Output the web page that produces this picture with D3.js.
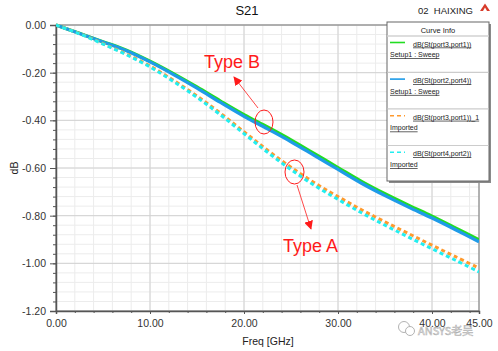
<!DOCTYPE html>
<html lang="en">
<head>
<meta charset="UTF-8">
<script src="https://d3js.org/d3.v7.min.js"></script>
<style>
  body { margin: 0; background: #fff; }
  text { font-family: "Liberation Sans", Arial, sans-serif; }
</style>
</head>
<body>
<div id="chart"></div>
<script>
// Data (Freq in GHz, S21 in dB)
const freq = [0, 2.5, 5, 7.5, 10, 12.5, 15, 17.5, 20, 22.5, 25, 27.5, 30, 32.5, 35, 37.5, 40, 42.5, 45];
const s31Sweep = [0, -0.035, -0.070, -0.106, -0.152, -0.204, -0.260, -0.319, -0.376, -0.428, -0.482, -0.540, -0.598, -0.656, -0.708, -0.756, -0.802, -0.851, -0.901];
const s24Sweep = [0, -0.036, -0.071, -0.108, -0.155, -0.208, -0.265, -0.325, -0.383, -0.436, -0.490, -0.548, -0.606, -0.664, -0.716, -0.764, -0.810, -0.859, -0.910];
const s31Imported = [0, -0.036, -0.078, -0.122, -0.172, -0.232, -0.298, -0.370, -0.448, -0.525, -0.597, -0.662, -0.720, -0.775, -0.826, -0.875, -0.924, -0.972, -1.020];
const s42Imported = [0, -0.037, -0.080, -0.125, -0.176, -0.237, -0.304, -0.377, -0.456, -0.534, -0.607, -0.673, -0.732, -0.788, -0.840, -0.890, -0.939, -0.987, -1.036];

const seriesNames = ["dB(St(port3,port1))", "dB(St(port2,port4))", "dB(St(port3,port1))_1", "dB(St(port4,port2))"];
const seriesSources = ["Setup1 : Sweep", "Setup1 : Sweep", "Imported", "Imported"];
const seriesColors = ["#22dd22", "#1e9be8", "#ff9a2e", "#22eef0"];
const seriesDash = [null, null, "4,3", "4,3"];
const seriesValues = [s31Sweep, s24Sweep, s31Imported, s42Imported];

const xTicks = [0, 10, 20, 30, 40, 45];
const yTicks = [0, -0.2, -0.4, -0.6, -0.8, -1.0, -1.2];

const width = 498, height = 351;
const margin = { top: 25, right: 19, bottom: 40, left: 56 };

const svg = d3.select("#chart").append("svg")
  .attr("width", width).attr("height", height);

svg.append("rect").attr("width", width).attr("height", height).attr("fill", "#fff");

const x = d3.scaleLinear().domain([0, 45]).range([margin.left, width - margin.right]);
const y = d3.scaleLinear().domain([-1.2, 0]).range([height - margin.bottom, margin.top]);

const xMinor = d3.range(0, 45, 2);
const yMinor = d3.range(0, 31).map(i => -i * 0.04);

// grid
const grid = svg.append("g");
grid.selectAll(".vminor").data(xMinor).join("line")
  .attr("x1", d => x(d)).attr("x2", d => x(d))
  .attr("y1", y(0)).attr("y2", y(-1.2))
  .attr("stroke", "#ececec");
grid.selectAll(".hminor").data(yMinor).join("line")
  .attr("x1", x(0)).attr("x2", x(45))
  .attr("y1", d => y(d)).attr("y2", d => y(d))
  .attr("stroke", "#ececec");
grid.selectAll(".vmajor").data(xTicks).join("line")
  .attr("x1", d => x(d)).attr("x2", d => x(d))
  .attr("y1", y(0)).attr("y2", y(-1.2))
  .attr("stroke", "#d2d2d2");
grid.selectAll(".hmajor").data(yTicks).join("line")
  .attr("x1", x(0)).attr("x2", x(45))
  .attr("y1", d => y(d)).attr("y2", d => y(d))
  .attr("stroke", "#d2d2d2");

// frame
svg.append("rect")
  .attr("x", x(0)).attr("y", y(0))
  .attr("width", x(45) - x(0)).attr("height", y(-1.2) - y(0))
  .attr("fill", "none").attr("stroke", "#7a7a7a");

// axes
const fmt = d => d.toFixed(2);
svg.append("g").attr("transform", `translate(0,${y(-1.2)})`)
  .call(d3.axisBottom(x).tickValues(xTicks).tickFormat(fmt).tickSize(3).tickPadding(6));
svg.append("g").attr("transform", `translate(0,${y(-1.2)})`)
  .call(d3.axisBottom(x).tickValues(xMinor).tickFormat("").tickSize(2))
  .call(g => g.select(".domain").remove());
svg.append("g").attr("transform", `translate(${x(0)},0)`)
  .call(d3.axisLeft(y).tickValues(yTicks).tickFormat(fmt).tickSize(6).tickPadding(4));
svg.append("g").attr("transform", `translate(${x(0)},0)`)
  .call(d3.axisLeft(y).tickValues(yMinor).tickFormat("").tickSize(3))
  .call(g => g.select(".domain").remove());

svg.selectAll(".tick line").attr("stroke", "#555");
svg.selectAll(".domain").attr("stroke", "#555").attr("stroke-width", 1.5);
svg.selectAll(".tick text")
  .style("font-family", "'Liberation Sans', Arial, sans-serif")
  .style("font-size", "10.5px").attr("fill", "#333");

// axis titles
svg.append("text").attr("x", 268).attr("y", 345).attr("text-anchor", "middle")
  .style("font-size", "10.5px").attr("fill", "#222").text("Freq [GHz]");
svg.append("text").attr("transform", "translate(18,168) rotate(-90)").attr("text-anchor", "middle")
  .style("font-size", "10.5px").attr("fill", "#222").text("dB");

// titles
svg.append("text").attr("x", 247).attr("y", 15).attr("text-anchor", "middle")
  .style("font-size", "13px").attr("fill", "#111").text("S21");
svg.append("text").attr("x", 418).attr("y", 13.5)
  .style("font-size", "9.5px").attr("fill", "#222").attr("xml:space", "preserve").text("02  HAIXING");
svg.append("path").attr("d", "M480,11 L485,3.5 L490,11 Z").attr("fill", "#d83b2a");
svg.append("path").attr("d", "M483,11 L485,7.5 L487,11 Z").attr("fill", "#fff");

// curves
svg.append("clipPath").attr("id", "plotClip").append("rect")
  .attr("x", x(0)).attr("y", y(0) - 2)
  .attr("width", x(45) - x(0)).attr("height", y(-1.2) - y(0) + 2);

const line = d3.line().x(d => x(d[0])).y(d => y(d[1])).curve(d3.curveCatmullRom.alpha(0.5));
const curves = svg.append("g").attr("clip-path", "url(#plotClip)");
seriesValues.forEach((vals, i) => {
  curves.append("path")
    .datum(freq.map((f, j) => [f, vals[j]]))
    .attr("d", line)
    .attr("fill", "none")
    .attr("stroke", seriesColors[i])
    .attr("stroke-width", i < 2 ? 3.2 : 3)
    .attr("stroke-dasharray", seriesDash[i]);
});

// annotations
const red = "#ff1a1a";
svg.append("ellipse").attr("cx", 264).attr("cy", 122).attr("rx", 9).attr("ry", 12)
  .attr("fill", "none").attr("stroke", red).attr("stroke-width", 1);
svg.append("ellipse").attr("cx", 294.5).attr("cy", 172).attr("rx", 9.5).attr("ry", 12)
  .attr("fill", "none").attr("stroke", red).attr("stroke-width", 1);
svg.append("defs").append("marker").attr("id", "arrow")
  .attr("viewBox", "0 0 10 10").attr("refX", 9).attr("refY", 5)
  .attr("markerWidth", 9).attr("markerHeight", 9).attr("orient", "auto")
  .attr("markerUnits", "userSpaceOnUse")
  .append("path").attr("d", "M0,0 L10,5 L0,10 Z").attr("fill", red);
svg.append("line").attr("x1", 258).attr("y1", 108).attr("x2", 234).attr("y2", 77)
  .attr("stroke", red).attr("stroke-width", 0.8).attr("marker-end", "url(#arrow)");
svg.append("line").attr("x1", 297).attr("y1", 185).attr("x2", 311).attr("y2", 229)
  .attr("stroke", red).attr("stroke-width", 0.8).attr("marker-end", "url(#arrow)");
svg.append("text").attr("x", 204).attr("y", 68).style("font-size", "18px")
  .attr("fill", red).text("Type B");
svg.append("text").attr("x", 283).attr("y", 252).style("font-size", "18px")
  .attr("fill", red).text("Type A");

// legend
const lg = svg.append("g").attr("transform", "translate(387,22)");
const lw = 102, lh = 159;
lg.append("rect").attr("x", 2).attr("y", 2).attr("width", lw).attr("height", lh).attr("fill", "#8a8a8a");
lg.append("rect").attr("width", lw).attr("height", lh).attr("fill", "#fff").attr("stroke", "#666");
lg.append("text").attr("x", lw / 2).attr("y", 10.5).attr("text-anchor", "middle")
  .style("font-size", "7.5px").attr("fill", "#222").text("Curve Info");
lg.append("line").attr("x1", 0.5).attr("x2", lw - 0.5).attr("y1", 14).attr("y2", 14)
  .attr("stroke", "#ddd").attr("stroke-width", 2);
seriesNames.forEach((name, i) => {
  const g = lg.append("g").attr("transform", `translate(0,${20.5 + i * 36.6})`);
  g.append("line").attr("x1", 3).attr("x2", 18).attr("y1", 0).attr("y2", 0)
    .attr("stroke", seriesColors[i]).attr("stroke-width", 1.6)
    .attr("stroke-dasharray", seriesDash[i]);
  g.append("text").attr("x", 26).attr("y", 4).style("font-size", "7px")
    .attr("fill", "#222").attr("text-decoration", "underline").text(name);
  g.append("text").attr("x", 3).attr("y", 14.8).style("font-size", "7px")
    .attr("fill", "#222").attr("text-decoration", "underline").text(seriesSources[i]);
  if (i < 3) {
    g.append("line").attr("x1", 0.5).attr("x2", lw - 0.5).attr("y1", 29.8).attr("y2", 29.8)
      .attr("stroke", "#ccc").attr("stroke-width", 1.2);
  }
});

// watermark
const wm = svg.append("g").attr("opacity", 0.75);
wm.append("circle").attr("cx", 404).attr("cy", 327).attr("r", 5.5)
  .attr("fill", "none").attr("stroke", "#999").attr("stroke-width", 1);
wm.append("circle").attr("cx", 410).attr("cy", 331).attr("r", 4.5)
  .attr("fill", "#fff").attr("stroke", "#999").attr("stroke-width", 1);
wm.append("text").attr("x", 418).attr("y", 335)
  .style("font-family", "'Noto Sans CJK SC', 'Liberation Sans', sans-serif")
  .style("font-size", "11px").attr("fill", "#fff").attr("stroke", "#999").attr("stroke-width", 0.6)
  .text("ANSYS老吴");
</script>
</body>
</html>
